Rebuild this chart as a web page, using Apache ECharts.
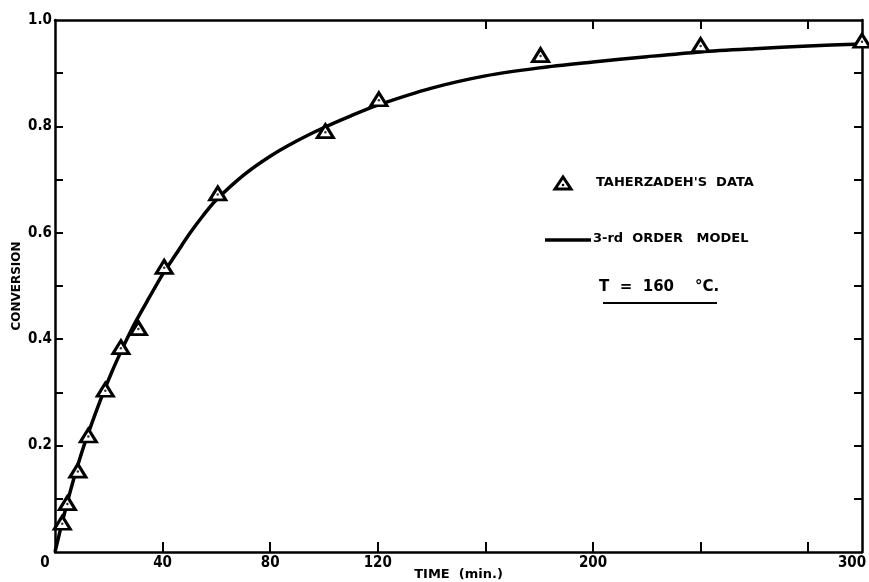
<!DOCTYPE html>
<html>
<head>
<meta charset="utf-8">
<script src="https://cdn.jsdelivr.net/npm/echarts@6/dist/echarts.min.js"></script>
<style>
  html, body { margin: 0; padding: 0; background: #ffffff; }
  #chart { width: 869px; height: 582px; }
</style>
</head>
<body>
<div id="chart"></div>
<script>
// Measured conversion, Taherzadeh's data (T = 160 °C)
const dataTimes = [2.7, 4.6, 8.5, 12.4, 18.7, 24.5, 31, 40.6, 60.5, 100.5, 120.4, 180.5, 240, 300];
const dataConversion = [0.055, 0.092, 0.153, 0.219, 0.305, 0.385, 0.421, 0.536, 0.674, 0.791, 0.851, 0.934, 0.953, 0.961];

// 3-rd order model curve
const modelTimes = [0, 2, 4, 6, 8, 10, 12, 15, 18, 21, 24, 27, 30, 35, 40, 45, 50, 55, 60, 70, 80, 90, 100, 110, 120, 140, 160, 180, 200, 220, 240, 260, 280, 300];
const modelConversion = [0, 0.042, 0.082, 0.12, 0.155, 0.188, 0.218, 0.26, 0.3, 0.337, 0.371, 0.403, 0.433, 0.478, 0.522, 0.56, 0.598, 0.632, 0.662, 0.708, 0.744, 0.773, 0.798, 0.82, 0.84, 0.872, 0.895, 0.91, 0.921, 0.931, 0.94, 0.946, 0.951, 0.955];

// Axis ticks and labels
const xLabelValues = [0, 40, 80, 120, 200, 300];
const xTickValues = [40, 80, 120, 160, 200, 240, 280];
const xTopTickValues = [160, 200, 240, 280];
const yLabelValues = [0.2, 0.4, 0.6, 0.8, 1.0];
const yTickValues = [0.1, 0.2, 0.3, 0.4, 0.5, 0.6, 0.7, 0.8, 0.9];

const FONT = 'DejaVu Sans';
const TICK_FONT = '"DejaVu Sans Condensed", "DejaVu Sans"';
const ink = '#000000';

const chart = echarts.init(document.getElementById('chart'), null, { renderer: 'canvas' });

const pairs = (xs, ys) => xs.map((x, i) => [x, ys[i]]);

const frameLine = { show: true, onZero: false, lineStyle: { color: ink, width: 2.5 } };
const labelFont = { fontFamily: TICK_FONT, fontWeight: 'bold', fontSize: 15, color: ink };

chart.setOption({
  animation: false,
  backgroundColor: '#ffffff',
  grid: { left: 55, right: 7, top: 20, bottom: 30, containLabel: false, outerBoundsMode: 'none' },
  xAxis: [
    {
      type: 'value', position: 'bottom', min: 0, max: 300,
      axisLine: frameLine,
      splitLine: { show: false },
      axisTick: { show: true, inside: true, length: 10, lineStyle: { color: ink, width: 2 }, customValues: xTickValues },
      axisLabel: Object.assign({
        show: true, margin: 4,
        customValues: xLabelValues,
        formatter: v => v === 0 ? '{l|0}' : (v === 300 ? '{r|300}' : String(v)),
        rich: {
          l: Object.assign({ padding: [0, 20, 0, 0] }, labelFont),
          r: Object.assign({ padding: [0, 20, 0, 0] }, labelFont)
        }
      }, labelFont),
      name: 'TIME  (min.)', nameLocation: 'middle', nameGap: 16, nameMoveOverlap: false,
      nameTextStyle: { color: ink, fontFamily: FONT, fontWeight: 'bold', fontSize: 13 }
    },
    {
      type: 'value', position: 'top', min: 0, max: 300,
      axisLine: frameLine,
      splitLine: { show: false },
      axisTick: { show: true, inside: true, length: 9, lineStyle: { color: ink, width: 2 }, customValues: xTopTickValues },
      axisLabel: { show: false }
    }
  ],
  yAxis: [
    {
      type: 'value', position: 'left', min: 0, max: 1,
      axisLine: frameLine,
      splitLine: { show: false },
      axisTick: { show: true, inside: true, length: 8, lineStyle: { color: ink, width: 2 }, customValues: yTickValues },
      axisLabel: Object.assign({
        show: true, margin: 3,
        customValues: yLabelValues,
        formatter: v => v.toFixed(1)
      }, labelFont),
      name: 'CONVERSION', nameLocation: 'middle', nameGap: 32, nameRotate: 90, nameMoveOverlap: false,
      nameTextStyle: { color: ink, fontFamily: FONT, fontWeight: 'bold', fontSize: 12 }
    },
    {
      type: 'value', position: 'right', min: 0, max: 1,
      axisLine: frameLine,
      splitLine: { show: false },
      axisTick: { show: true, inside: true, length: 8, lineStyle: { color: ink, width: 2 }, customValues: yTickValues },
      axisLabel: { show: false }
    }
  ],
  series: [
    {
      name: '3-rd ORDER MODEL', type: 'line', xAxisIndex: 0, yAxisIndex: 0,
      data: pairs(modelTimes, modelConversion),
      smooth: 0.3, showSymbol: false, symbol: 'none',
      lineStyle: { color: ink, width: 3.5 }, z: 2
    },
    {
      name: "TAHERZADEH'S DATA", type: 'scatter', xAxisIndex: 0, yAxisIndex: 0,
      data: pairs(dataTimes, dataConversion),
      symbol: 'triangle', symbolSize: [16, 13],
      itemStyle: { color: '#ffffff', borderColor: ink, borderWidth: 3, opacity: 1 },
      z: 3
    },
    {
      // centre dot inside each triangle
      type: 'scatter', xAxisIndex: 0, yAxisIndex: 0,
      data: pairs(dataTimes, dataConversion),
      symbol: 'circle', symbolSize: 2.5, symbolOffset: [0, 1],
      itemStyle: { color: ink }, silent: true, z: 4
    }
  ],
  graphic: [
    // data key
    { type: 'polygon', shape: { points: [[555, 189], [571, 189], [563, 177]] },
      style: { fill: '#ffffff', stroke: ink, lineWidth: 3 } },
    { type: 'circle', shape: { cx: 563, cy: 185, r: 1.3 }, style: { fill: ink } },
    { type: 'text', left: 596, top: 176,
      style: { text: "TAHERZADEH'S  DATA", fill: ink, font: 'bold 13px "DejaVu Sans"' } },
    // model key
    { type: 'line', shape: { x1: 545, y1: 240, x2: 591, y2: 240 },
      style: { stroke: ink, lineWidth: 3.5 } },
    { type: 'text', left: 593, top: 232,
      style: { text: '3-rd  ORDER   MODEL', fill: ink, font: 'bold 13px "DejaVu Sans"' } },
    // temperature note
    { type: 'text', left: 599, top: 280,
      style: { text: 'T  =  160    °C.', fill: ink, font: 'bold 15px "DejaVu Sans"' } },
    { type: 'line', shape: { x1: 603, y1: 303, x2: 717, y2: 303 },
      style: { stroke: ink, lineWidth: 2 } }
  ]
});
</script>
</body>
</html>
